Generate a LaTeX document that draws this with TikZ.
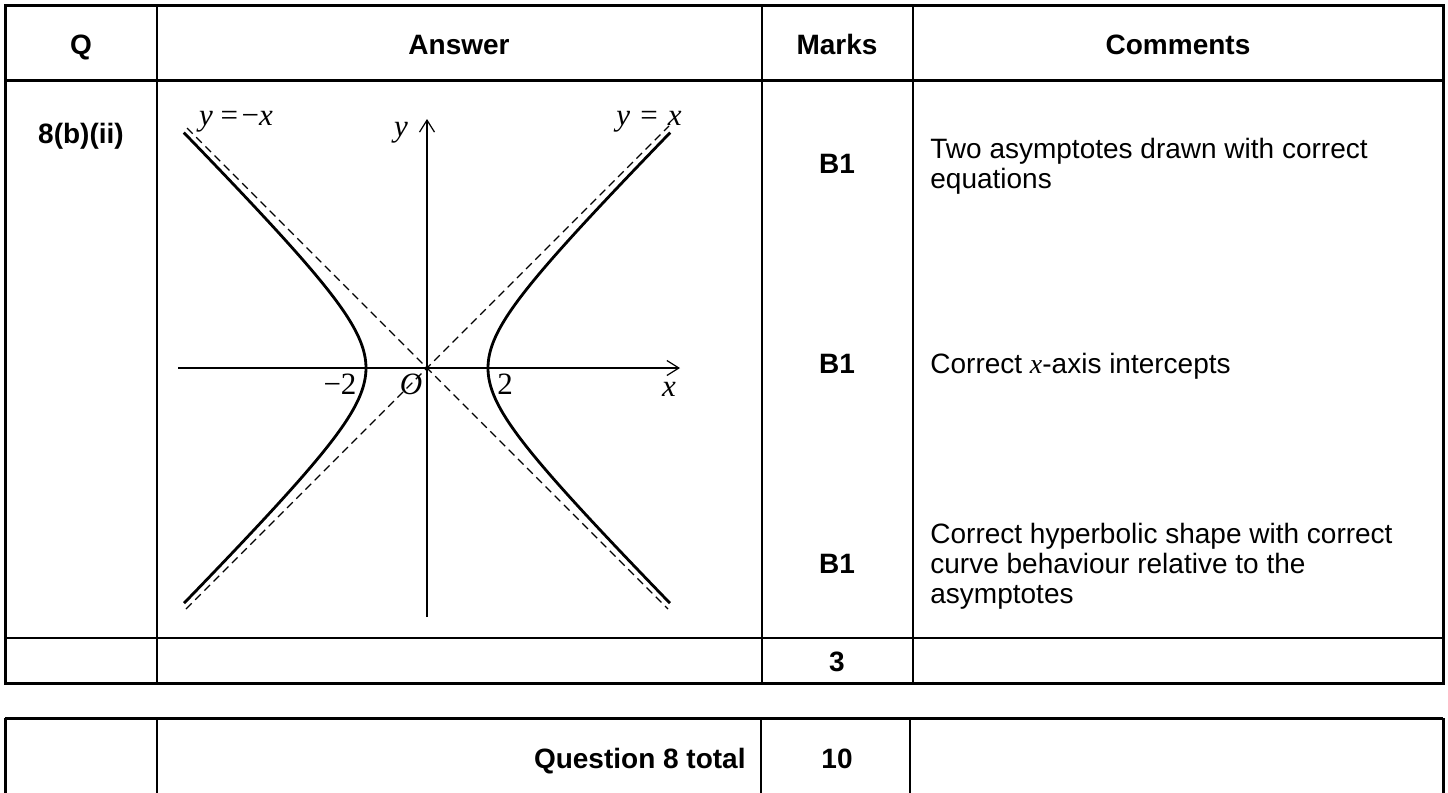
\documentclass[tikz,border=0pt]{standalone}
\usepackage{fontspec}
\setmainfont{Liberation Sans}
\newfontfamily\tnr{Liberation Serif}
\usetikzlibrary{arrows.meta}
\begin{document}
\begin{tikzpicture}[x=0.5pt,y=-0.5pt,
  outerline/.style={line width=1.5pt},
  innerline/.style={line width=1.25pt},
  hdr/.style={font=\fontsize{14}{16}\selectfont\bfseries, anchor=base, inner sep=0pt},
  txt/.style={font=\fontsize{14}{16}\selectfont, anchor=base west, inner sep=0pt},
  mathlbl/.style={font=\fontsize{15.5}{17}\selectfont\tnr, anchor=base, inner sep=0pt},
  axisline/.style={line width=0.6pt, -{Straight Barb[length=6pt,width=7.5pt,line width=0.6pt]}},
  asym/.style={line width=0.55pt, dash pattern=on 4pt off 2.5pt},
  curve/.style={line width=1.4pt}
]
\useasboundingbox (0,0) rectangle (1448,793);

% ---------- first table ----------
\draw[outerline] (5,5) rectangle (1443,683);
\draw[innerline] (157,5) -- (157,683);
\draw[innerline] (762,5) -- (762,683);
\draw[innerline] (913,5) -- (913,683);
\draw[outerline] (5,80) -- (1443,80);
\draw[innerline] (5,638) -- (1443,638);

% header
\node[hdr] (hq) at (81,54) {Q};
\node[hdr] (ha) at (459,54) {Answer};
\node[hdr] (hm) at (837,54) {Marks};
\node[hdr] (hc) at (1178,54) {Comments};

\node[hdr] (qn) at (81,143) {8(b)(ii)};

% marks
\node[hdr] (m1) at (837,173) {B1};
\node[hdr] (m2) at (837,373) {B1};
\node[hdr] (m3) at (837,573) {B1};
\node[hdr] (mt) at (837,671) {3};

% comments
\node[txt] (c1a) at (930,158) {Two asymptotes drawn with correct};
\node[txt] (c1b) at (930,188) {equations};
\node[txt] (c2) at (930,373) {Correct {\tnr\itshape x}-axis intercepts};
\node[txt] (c3a) at (930,543) {Correct hyperbolic shape with correct};
\node[txt] (c3b) at (930,573) {curve behaviour relative to the};
\node[txt] (c3c) at (930,603) {asymptotes};

% ---------- graph ----------
\coordinate (O) at (427,368);
\coordinate (xs) at (178,368);
\coordinate (xe) at (680,368);
\coordinate (ys) at (427,617);
\coordinate (ye) at (427,119);
\draw[axisline] (xs) -- (xe);
\draw[axisline] (ys) -- (ye);

\coordinate (a1s) at (186,609);
\coordinate (a1e) at (669,126);
\coordinate (a2s) at (187,128);
\coordinate (a2e) at (668,609);
\draw[asym] (a1s) -- (a1e);
\draw[asym] (a2s) -- (a2e);
\fill (O) circle (1pt);

\begin{scope}[shift={(O)}]
  \draw[curve] plot[domain=-2.06:2.06, samples=90, smooth] ({61*cosh(\x)},{61*sinh(\x)});
  \draw[curve] plot[domain=-2.06:2.06, samples=90, smooth] ({-61*cosh(\x)},{61*sinh(\x)});
\end{scope}

\node[mathlbl] (lnx) at (236,125) {\itshape y\upshape\hspace{0.25em}=\hspace{0.12em}\textminus\itshape x};
\node[mathlbl] (lpx) at (649,125) {\itshape y\upshape\hspace{0.33em}=\hspace{0.33em}\itshape x};
\node[mathlbl] (ly) at (401,136) {\itshape y};
\node[mathlbl] (lx) at (669,396) {\itshape x};
\node[mathlbl] (lm2) at (340,394) {\textminus 2};
\node[mathlbl] (lo) at (411,394) {\itshape O};
\node[mathlbl] (lp2) at (505,394) {2};

% ---------- second table ----------
\draw[outerline] (5,718) -- (1443,718);
\draw[outerline] (5,718) -- (5,795);
\draw[outerline] (1443,718) -- (1443,795);
\draw[innerline] (157,718) -- (157,795);
\draw[innerline] (761,718) -- (761,795);
\draw[innerline] (910,718) -- (910,795);
\node[hdr, anchor=base east] (qt) at (746,768) {Question 8 total};
\node[hdr] (tt) at (837,768) {10};
\end{tikzpicture}
\end{document}
